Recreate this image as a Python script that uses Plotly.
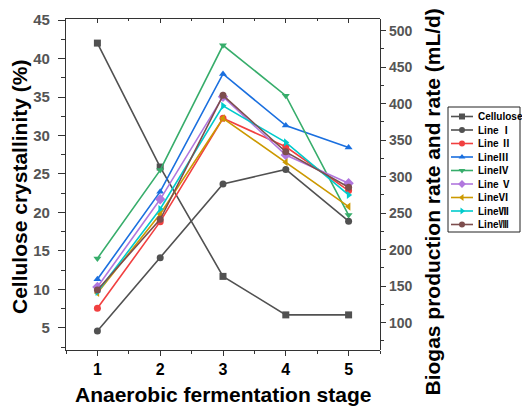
import plotly.graph_objects as go

stages = [1, 2, 3, 4, 5]
cellulose = [42.0, 25.9, 11.7, 6.7, 6.7]
line_1 = [88.6, 189, 290, 310, 239]
line_2 = [119.7, 238.4, 380, 341, 281]
line_3 = [159.5, 279.5, 440.7, 370, 340]
line_4 = [188, 309, 480, 411, 247.5]
line_5 = [149, 269, 409.6, 329.7, 291]
line_6 = [140.7, 249, 380, 319.7, 259]
line_7 = [142, 255.8, 397, 347, 275]
line_8 = [144.8, 241.6, 411.5, 334, 285.5]

names = ["Cellulose", "Line Ⅰ", "Line Ⅱ", "LineⅢ", "LineⅣ", "Line Ⅴ", "LineⅥ", "LineⅦ", "LineⅧ"]
series = [cellulose, line_1, line_2, line_3, line_4, line_5, line_6, line_7, line_8]
colors = ["#515151", "#515151", "#F14040", "#1A6FDF", "#37AD6B", "#B177DE", "#CC9900", "#00CBCC", "#7D4E4E"]
symbols = ["square", "circle", "circle", "triangle-up", "triangle-down", "diamond",
           "triangle-left", "triangle-right", "circle"]

FONT = "Liberation Sans, Arial, sans-serif"
LEG_FONT = "Liberation Sans, Noto Sans CJK SC, sans-serif"
W, H = 522, 406
L, T, B = 66, 19, 56
PW = W - L          # plotting width spanned by paper
PH = H - T - B
main_right = 380
xdom = (main_right - L) / PW

fig = go.Figure()

for i, (nm, ys, c, s) in enumerate(zip(names, series, colors, symbols)):
    fig.add_trace(go.Scatter(
        x=stages, y=ys, name=nm, mode="lines+markers",
        yaxis="y" if i == 0 else "y2",
        line=dict(color=c, width=1.6),
        marker=dict(symbol=s, size=7 if s != "diamond" else 8, color=c, line=dict(width=0)),
        showlegend=False,
    ))

# invisible trace so that the top (mirror) axis with inward ticks is drawn
fig.add_trace(go.Scatter(x=stages, y=cellulose, xaxis="x4", yaxis="y", mode="markers",
                         marker=dict(opacity=0), showlegend=False, hoverinfo="skip"))

# custom legend drawn in its own small axis pair
leg_l, leg_r, leg_t, leg_b = 448, 520, 107, 232
row0, row_step = 9.5, 13.5
for i, (nm, c, s) in enumerate(zip(names, colors, symbols)):
    yy = row0 + row_step * i
    fig.add_trace(go.Scatter(x=[3, 25], y=[yy, yy], xaxis="x3", yaxis="y3", mode="lines",
                             line=dict(color=c, width=1.6), showlegend=False, hoverinfo="skip"))
    fig.add_trace(go.Scatter(x=[14], y=[yy], xaxis="x3", yaxis="y3", mode="markers",
                             marker=dict(symbol=s, size=6, color=c, line=dict(width=0)),
                             showlegend=False, hoverinfo="skip"))
    fig.add_annotation(x=28, y=yy, xref="x3", yref="y3", text=nm, showarrow=False,
                       xanchor="left", yanchor="middle",
                       font=dict(family=LEG_FONT, size=10, color="#000", weight="bold"))

fig.add_shape(type="rect", xref="x3 domain", yref="y3 domain", x0=0, x1=1, y0=0, y1=1,
              line=dict(color="#222", width=1))

axis_common = dict(showgrid=False, zeroline=False, showline=True, linecolor="#333", linewidth=1.2,
                   ticks="outside", tickcolor="#333", tickwidth=1.2)

fig.update_layout(
    width=W, height=H,
    margin=dict(l=L, r=0, t=T, b=B),
    paper_bgcolor="white", plot_bgcolor="white",
    showlegend=False,
    xaxis=dict(domain=[0, xdom], range=[0.5, 5.5], tickvals=stages, ticklen=5,
               minor=dict(dtick=0.5, tick0=0.5, ticks="outside", ticklen=3, tickcolor="#333"),
               tickfont=dict(family=FONT, size=16, color="#000", weight="bold"),
               **axis_common),
    xaxis4=dict(domain=[0, xdom], range=[0.5, 5.5], overlaying="x", side="top", anchor="y",
                tickvals=stages, ticklen=4, ticks="inside", showticklabels=False,
                showline=True, linecolor="#333", linewidth=1.2, tickcolor="#333", tickwidth=1.2,
                showgrid=False, zeroline=False,
                minor=dict(dtick=0.5, tick0=0.5, ticks="inside", ticklen=2, tickcolor="#333")),
    yaxis=dict(range=[2.14, 45.13], tickvals=[5, 10, 15, 20, 25, 30, 35, 40, 45], ticklen=7,
               ticklabelstandoff=5,
               minor=dict(dtick=2.5, tick0=0, ticks="outside", ticklen=4, tickcolor="#333"),
               tickfont=dict(family=FONT, size=15, color="#555", weight="bold"),
               **axis_common),
    yaxis2=dict(range=[62.6, 516], overlaying="y", side="right", anchor="free", position=xdom,
                tickvals=[100, 150, 200, 250, 300, 350, 400, 450, 500], ticklen=5,
                minor=dict(dtick=25, tick0=0, ticks="outside", ticklen=3, tickcolor="#333"),
                tickfont=dict(family=FONT, size=14, color="#555", weight="bold"),
                **axis_common),
    xaxis3=dict(domain=[(leg_l - L) / PW, (leg_r - L) / PW], range=[0, leg_r - leg_l], visible=False,
                anchor="y3"),
    yaxis3=dict(domain=[(H - B - leg_b) / PH, (H - B - leg_t) / PH], range=[leg_b - leg_t, 0],
                visible=False, anchor="x3"),
)

title_font = dict(family=FONT, size=21, color="#000", weight="bold")
fig.add_annotation(text="Cellulose crystallinity (%)", xref="paper", yref="paper",
                   x=(19.5 - L) / PW, y=(H - B - 187.5) / PH, textangle=-90, showarrow=False,
                   xanchor="center", yanchor="middle", font=title_font)
fig.add_annotation(text="Biogas production rate and rate (mL/d)", xref="paper", yref="paper",
                   x=(432.5 - L) / PW, y=(H - B - 202) / PH, textangle=-90, showarrow=False,
                   xanchor="center", yanchor="middle", font=title_font)
fig.add_annotation(text="Anaerobic fermentation stage", xref="paper", yref="paper",
                   x=(222.5 - L) / PW, y=(H - B - 394) / PH, showarrow=False,
                   xanchor="center", yanchor="middle", font=title_font)

fig.write_html("out.html")
